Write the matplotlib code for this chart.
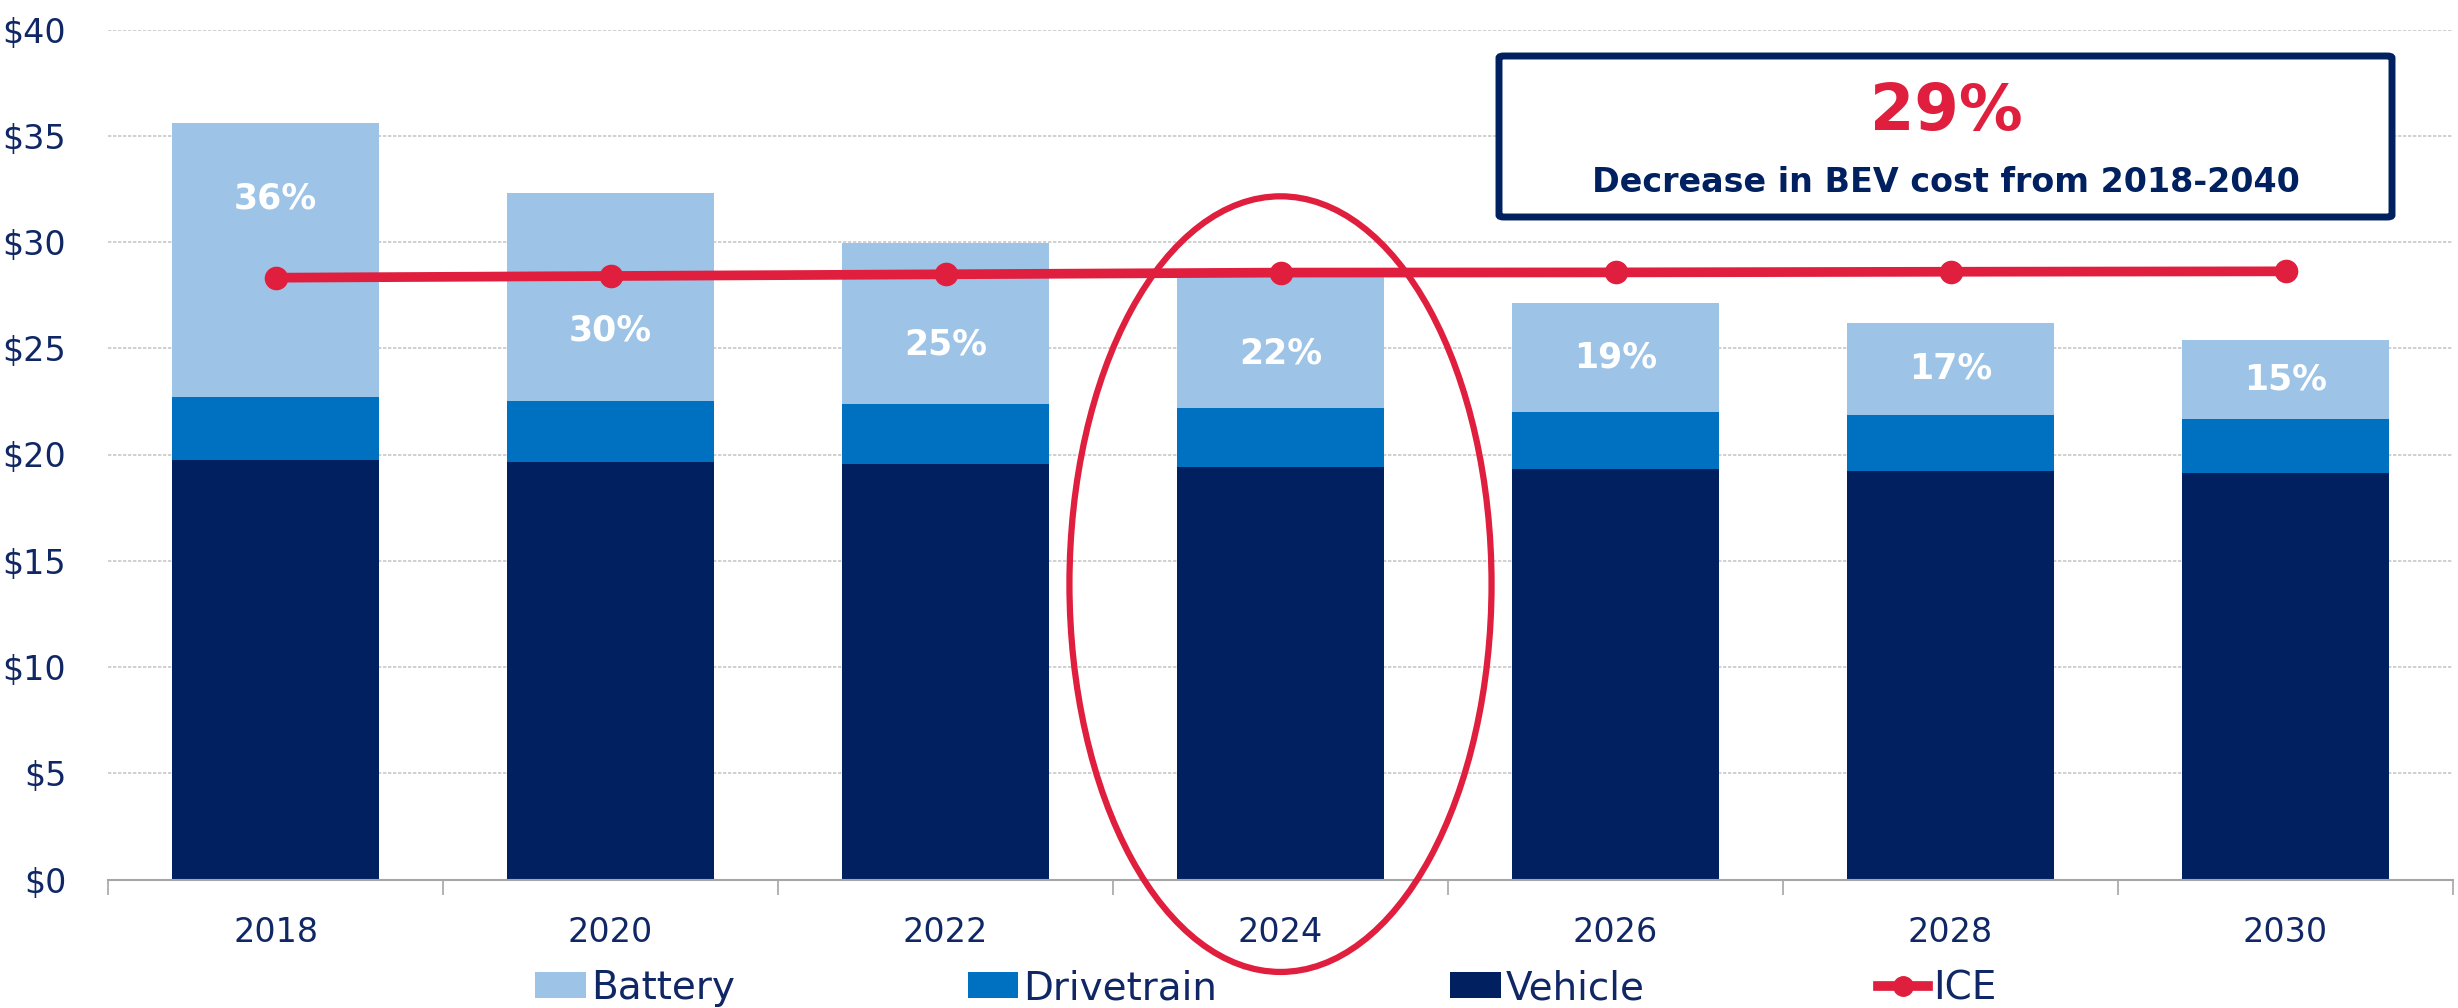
import matplotlib
matplotlib.use("Agg")
import matplotlib.pyplot as plt
from matplotlib.patches import Ellipse, FancyBboxPatch, Patch
from matplotlib.lines import Line2D
import numpy as np

# ---- data -----------------------------------------------------------
years = ["2018", "2020", "2022", "2024", "2026", "2028", "2030"]
vehicle = [19.73, 19.63, 19.55, 19.43, 19.33, 19.24, 19.14]
drivetrain = [2.97, 2.87, 2.81, 2.77, 2.67, 2.62, 2.53]
battery = [12.89, 9.81, 7.59, 6.26, 5.14, 4.33, 3.73]
ice = [28.32, 28.40, 28.48, 28.56, 28.57, 28.60, 28.62]
battery_share = ["36%", "30%", "25%", "22%", "19%", "17%", "15%"]
y_ticks = [0, 5, 10, 15, 20, 25, 30, 35, 40]
headline_value = "29%"
headline_text = "Decrease in BEV cost from 2018-2040"
highlight_year = "2024"

# ---- style ----------------------------------------------------------
C_BATT = "#9DC3E6"
C_DRIVE = "#0070C0"
C_VEH = "#002060"
C_ICE = "#E01F3E"
C_TEXT = "#102766"
FONT = "DejaVu Sans"
plt.rcParams["font.family"] = [FONT]

W, H = 2458, 1008
fig = plt.figure(figsize=(W / 100, H / 100), dpi=100)
ax = fig.add_axes([108 / W, 1 - 879.5 / H, (2453 - 108) / W, (879.5 - 29.5) / H])

x = np.arange(len(years))
bw = 0.62
veh = np.array(vehicle)
drv = np.array(drivetrain)
bat = np.array(battery)

ax.bar(x, veh, bw, color=C_VEH, zorder=2, label="Vehicle")
ax.bar(x, drv, bw, bottom=veh, color=C_DRIVE, zorder=2, label="Drivetrain")
ax.bar(x, bat, bw, bottom=veh + drv, color=C_BATT, zorder=2, label="Battery")

ax.plot(x, ice, color=C_ICE, lw=7, marker="o", ms=16, zorder=4,
        solid_capstyle="round")

# battery share labels, nudged off the ICE line where they would collide
nudge = {0: 2.9, 1: -1.55, 2: -1.0, 3: -0.6}
for i, s in enumerate(battery_share):
    ymid = veh[i] + drv[i] + bat[i] / 2 + nudge.get(i, 0.0)
    ax.text(x[i], ymid, s, ha="center", va="center", color="white",
            fontsize=25, fontweight="bold", zorder=3)

# axes
ax.set_xlim(-0.5, len(years) - 0.5)
ax.set_ylim(0, 40)
ax.set_yticks(y_ticks)
ax.set_yticklabels([f"${v}" for v in y_ticks])
ax.set_xticks(x)
ax.set_xticklabels(years)
ax.set_xticks(np.arange(-0.5, len(years)), minor=True)
ax.tick_params(axis="y", length=0, pad=30, labelsize=24, labelcolor=C_TEXT)
ax.tick_params(axis="x", which="major", length=0, pad=26, labelsize=24,
               labelcolor=C_TEXT)
ax.tick_params(axis="x", which="minor", length=11, width=1.2, color="#A6A6A6",
               direction="out")
for side in ("top", "right", "left"):
    ax.spines[side].set_visible(False)
ax.spines["bottom"].set_color("#A6A6A6")
ax.spines["bottom"].set_linewidth(1.5)
ax.yaxis.grid(True, color="#C8C8C8", lw=1.2, ls=(0, (2, 1)), zorder=0)
ax.set_axisbelow(True)

# highlight ring around one year
hi = years.index(highlight_year)
ax.add_patch(Ellipse((x[hi], 13.9), 1.26, 36.5, fill=False, edgecolor=C_ICE,
                     lw=4.5, zorder=5, clip_on=False))

# headline callout box
bx0, bx1, by0, by1 = 1499, 2392, 56, 217
fig.patches.append(FancyBboxPatch((bx0 / W, 1 - by1 / H),
                                  (bx1 - bx0) / W, (by1 - by0) / H,
                                  boxstyle="round,pad=0,rounding_size=0.002",
                                  transform=fig.transFigure, facecolor="white",
                                  edgecolor=C_VEH, lw=5, zorder=6))
fig.text(1946 / W, 1 - 112 / H, headline_value, ha="center", va="center",
         color=C_ICE, fontsize=46, fontweight="bold", zorder=7)
fig.text(1946 / W, 1 - 183 / H, headline_text, ha="center", va="center",
         color=C_VEH, fontsize=24, fontweight="bold", zorder=7)

# legend
handles = [Patch(facecolor=C_BATT, label="Battery"),
           Patch(facecolor=C_DRIVE, label="Drivetrain"),
           Patch(facecolor=C_VEH, label="Vehicle"),
           Line2D([], [], color=C_ICE, lw=7, marker="o", ms=14, label="ICE")]
leg = fig.legend(handles=handles, loc="center", bbox_to_anchor=(1266 / W, 1 - 988 / H),
                 ncol=4, frameon=False, fontsize=28, handlelength=1.3,
                 handleheight=0.65, handletextpad=0.12, columnspacing=6.0,
                 borderpad=0, borderaxespad=0)
for t in leg.get_texts():
    t.set_color(C_TEXT)

fig.savefig("out.png", dpi=100)
